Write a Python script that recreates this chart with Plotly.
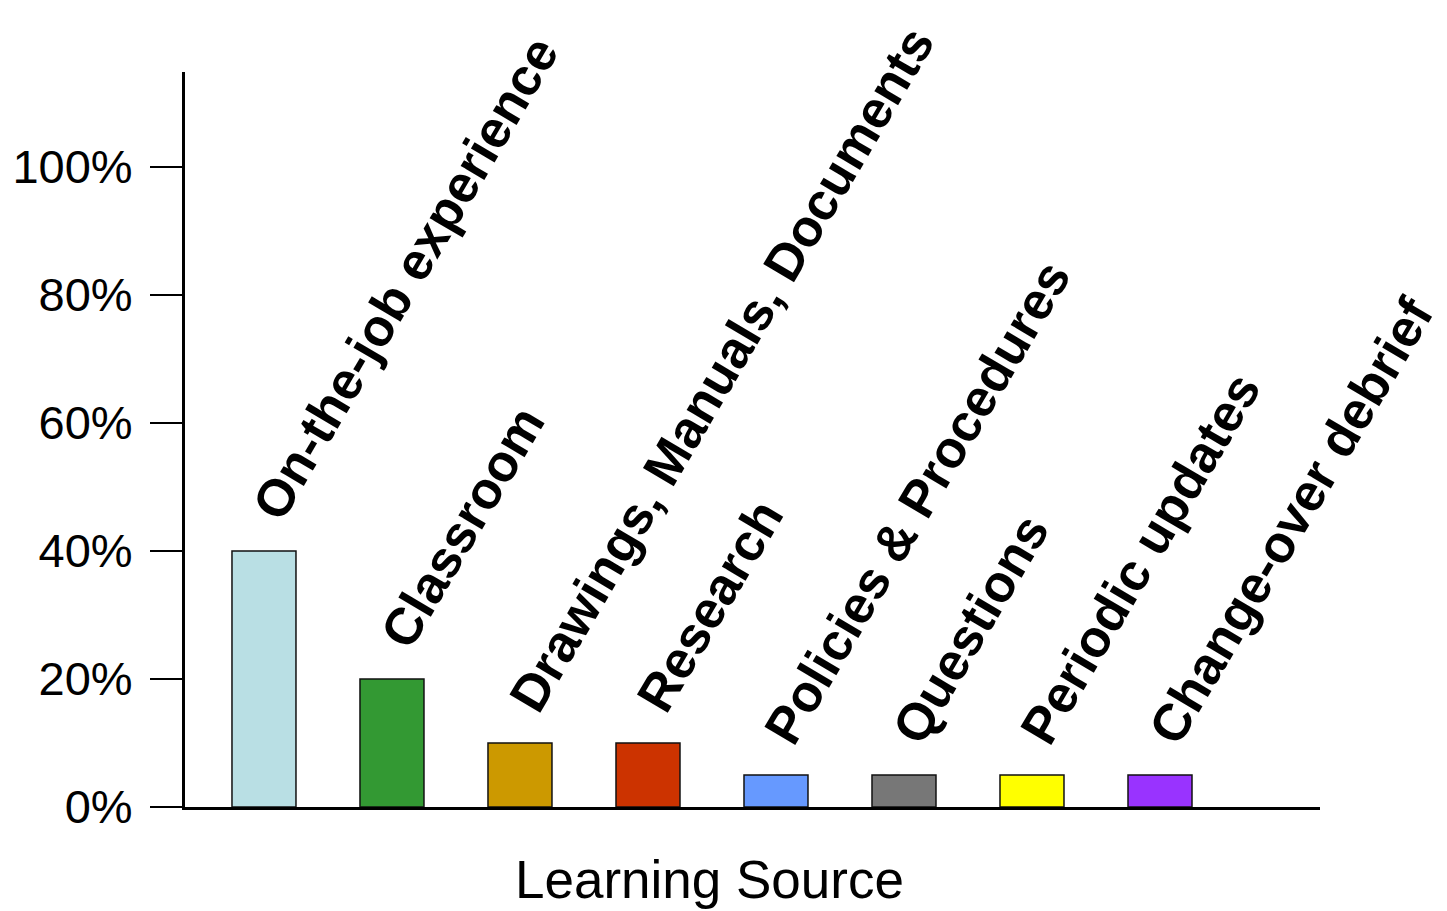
import plotly.graph_objects as go

categories = ["On-the-job experience", "Classroom", "Drawings, Manuals, Documents",
              "Research", "Policies & Procedures", "Questions", "Periodic updates",
              "Change-over debrief"]
values = [40, 20, 10, 10, 5, 5, 5, 5]
colors = ["#B9DFE4", "#339933", "#CC9900", "#CC3300", "#6699FF", "#777777", "#FFFF00", "#9933FF"]
y_ticks = [0, 20, 40, 60, 80, 100]
y_tick_labels = ["0%", "20%", "40%", "60%", "80%", "100%"]
x_title = "Learning Source"

xpos = list(range(len(categories)))

fig = go.Figure()
fig.add_trace(go.Bar(
    x=xpos, y=values, width=0.5,
    marker=dict(color=colors, line=dict(color="#111111", width=1.5)),
    hoverinfo="skip",
))

for i, (c, v) in enumerate(zip(categories, values)):
    fig.add_annotation(
        x=i, y=v, xref="x", yref="y", text="<b>%s</b>" % c, showarrow=False,
        textangle=-59.5, xanchor="left", yanchor="bottom", borderpad=0,
        xshift=-24, yshift=20,
        font=dict(family="Liberation Sans, Arial, sans-serif", size=52, color="black"),
    )

fig.add_annotation(
    x=0.462, y=-0.0555, xref="paper", yref="paper", text=x_title, showarrow=False,
    xanchor="center", yanchor="top",
    font=dict(family="Liberation Sans, Arial, sans-serif", size=53, color="black"),
)

fig.update_layout(
    width=1447, height=911,
    margin=dict(l=185, r=127, t=72, b=104),
    paper_bgcolor="white", plot_bgcolor="white",
    showlegend=False,
    font=dict(family="Liberation Sans, Arial, sans-serif", color="black"),
    xaxis=dict(range=[-0.617, 8.25], showticklabels=False, ticks="", showgrid=False,
               zeroline=False, showline=True, linecolor="black", linewidth=3,
               automargin=False),
    yaxis=dict(range=[0, 114.8], tickvals=y_ticks, ticktext=y_tick_labels,
               ticks="outside", ticklen=32, tickwidth=1.5, tickcolor="black",
               tickfont=dict(size=47, color="black"), showgrid=False, zeroline=False,
               showline=True, linecolor="black", linewidth=3, ticklabelstandoff=8,
               automargin=False),
)

fig.write_html("out.html")
